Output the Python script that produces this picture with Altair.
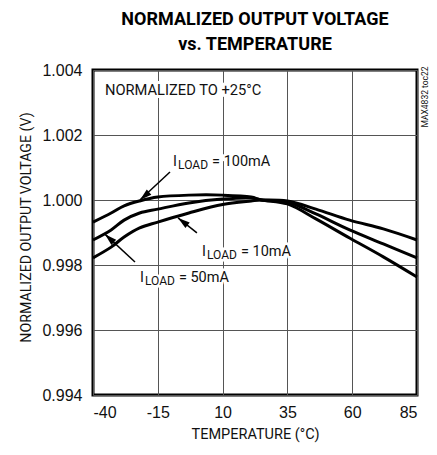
import altair as alt
import pandas as pd

# ---- data ----
temps = [-40, -33, -28, -22, -15, -3, 10, 21, 25, 35, 46, 59, 72, 85]
v_100mA = [0.99932, 0.99960, 0.99982, 0.99997, 1.00009, 1.00015, 1.00015, 1.00009, 1.00000, 0.99988, 0.99942, 0.99883, 0.99825, 0.99763]
v_50mA = [0.99877, 0.99908, 0.99938, 0.99960, 0.99972, 0.99991, 1.00003, 1.00006, 1.00000, 0.99994, 0.99957, 0.99908, 0.99865, 0.99822]
v_10mA = [0.99822, 0.99855, 0.99886, 0.99914, 0.99932, 0.99960, 0.99986, 0.99997, 1.00000, 0.99997, 0.99972, 0.99938, 0.99911, 0.99877]

x_ticks = [-40, -15, 10, 35, 60, 85]
y_ticks = [0.994, 0.996, 0.998, 1.000, 1.002, 1.004]

# annotation anchors (temperature, voltage)
label_names = ["100mA", "10mA", "50mA"]
label_text = ["= 100mA", "= 10mA", "= 50mA"]
label_t = [-9.1, 2.05, -21.9]
label_v = [1.00105, 0.99828, 0.99748]

arrow_tail_t = [-10.3, 0.1, -23.8]
arrow_tail_v = [1.00086, 0.99899, 0.99809]
arrow_tip_t = [-21.9, -7.2, -35.4]
arrow_tip_v = [1.00000, 0.99945, 0.99895]
arrow_angle = [229, 308, 313]

note_text = "NORMALIZED TO +25°C"
note_t, note_v = -35.4, 1.00335
code_text = "MAX4832 toc22"
code_t, code_v = 88.0, 1.00317

TXT = "Roboto, Liberation Sans, sans-serif"
REG = "Liberation Sans, Arial, sans-serif"

rows = []
for name, vals in [("100mA", v_100mA), ("50mA", v_50mA), ("10mA", v_10mA)]:
    for t, v in zip(temps, vals):
        rows.append({"series": name, "t": t, "v": v})
curves = pd.DataFrame(rows)

labels = pd.DataFrame({"name": label_names, "rest": label_text, "t": label_t, "v": label_v})
arrows_rows = []
for i, n in enumerate(label_names):
    arrows_rows.append({"name": n, "t": arrow_tail_t[i], "v": arrow_tail_v[i], "o": 0})
    arrows_rows.append({"name": n, "t": arrow_tip_t[i], "v": arrow_tip_v[i], "o": 1})
arrows = pd.DataFrame(arrows_rows)
heads = pd.DataFrame({"name": label_names, "t": arrow_tip_t, "v": arrow_tip_v, "ang": arrow_angle})
note = pd.DataFrame({"t": [note_t], "v": [note_v], "txt": [note_text]})
code = pd.DataFrame({"t": [code_t], "v": [code_v], "txt": [code_text]})

xs = alt.Scale(domain=[-40, 85], nice=False)
ys = alt.Scale(domain=[0.994, 1.004], nice=False)

X = alt.X("t:Q", scale=xs, axis=alt.Axis(
    values=x_ticks, title="TEMPERATURE (°C)", grid=True, ticks=False, domain=False,
    labelExpr="replace(datum.label, '\u2212', '-')",
    labelFont=REG, labelFontSize=16, labelColor="#111", labelPadding=9,
    titleFont=TXT, titleFontSize=14.5, titleFontWeight="normal", titleColor="#111",
    titlePadding=7, gridColor="#555", gridWidth=1))
Y = alt.Y("v:Q", scale=ys, axis=alt.Axis(
    values=y_ticks, format=".3f", title="NORMALIZED OUTPUT VOLTAGE (V)", grid=True,
    ticks=False, domain=False, labelFont=REG, labelFontSize=16, labelColor="#111",
    labelPadding=11, titleFont=TXT, titleFontSize=14.2, titleFontWeight="normal",
    titleColor="#111", titleX=-67, titleY=157, titleAngle=270, titleBaseline="middle",
    titleAlign="center", gridColor="#555", gridWidth=1))

lines = alt.Chart(curves).mark_line(color="black", strokeWidth=3, interpolate="catmull-rom").encode(
    x=X, y=Y, detail="series:N")

def txt(df, text_field, **kw):
    return alt.Chart(df).mark_text(**kw).encode(
        x=alt.X("t:Q", scale=xs), y=alt.Y("v:Q", scale=ys), text=f"{text_field}:N")

def part(s, halo, **kw):
    extra = dict(stroke="white", strokeWidth=5, color="white") if halo else dict(color="#111")
    return alt.Chart(labels).transform_calculate(s=f"'{s}'").mark_text(
        align="left", baseline="alphabetic", font=TXT, **kw, **extra
    ).encode(x=alt.X("t:Q", scale=xs), y=alt.Y("v:Q", scale=ys), text="s:N")

lab_I_h = part("I", True, fontSize=14.5)
lab_I = part("I", False, fontSize=14.5)
lab_L_h = part("LOAD", True, fontSize=12, dx=5, dy=3)
lab_L = part("LOAD", False, fontSize=12, dx=5, dy=3)
lab_R_h = txt(labels, "rest", align="left", baseline="alphabetic", font=TXT, fontSize=14.5, dx=39,
              stroke="white", strokeWidth=5, color="white")
lab_R = txt(labels, "rest", align="left", baseline="alphabetic", font=TXT, fontSize=14.5, dx=39, color="#111")

note_h = txt(note, "txt", align="left", baseline="middle", font=TXT, fontSize=14.7,
             stroke="white", strokeWidth=6, color="white")
note_t_ = txt(note, "txt", align="left", baseline="middle", font=TXT, fontSize=14.7, color="#111")
code_m = txt(code, "txt", align="center", baseline="middle", font=TXT, fontSize=8.5, angle=270,
             color="#111")

shafts = alt.Chart(arrows).mark_line(color="black", strokeWidth=1.5).encode(
    x=alt.X("t:Q", scale=xs), y=alt.Y("v:Q", scale=ys), detail="name:N", order="o:Q")
head_mark = alt.Chart(heads).mark_point(
    shape="M0,0L-0.4,1.4L0.4,1.4Z", filled=True, color="black", opacity=1, size=300
).encode(x=alt.X("t:Q", scale=xs), y=alt.Y("v:Q", scale=ys), angle=alt.Angle("ang:Q", scale=None))

chart = alt.layer(
    lines, note_h, note_t_, lab_I_h, lab_L_h, lab_R_h, lab_I, lab_L, lab_R, shafts, head_mark, code_m
).properties(
    width=324, height=325,
    title=alt.Title(["NORMALIZED OUTPUT VOLTAGE", "vs. TEMPERATURE"], font=TXT, fontSize=18,
                    fontWeight="bold", color="#000", anchor="middle", offset=8, lineHeight=25),
    autosize=alt.AutoSizeParams(type="none"),
    padding={"left": 85, "top": 62, "right": 12, "bottom": 52},
).configure_view(stroke="black", strokeWidth=3)

chart.save("out.html", embed_options={"renderer": "svg", "actions": False})
